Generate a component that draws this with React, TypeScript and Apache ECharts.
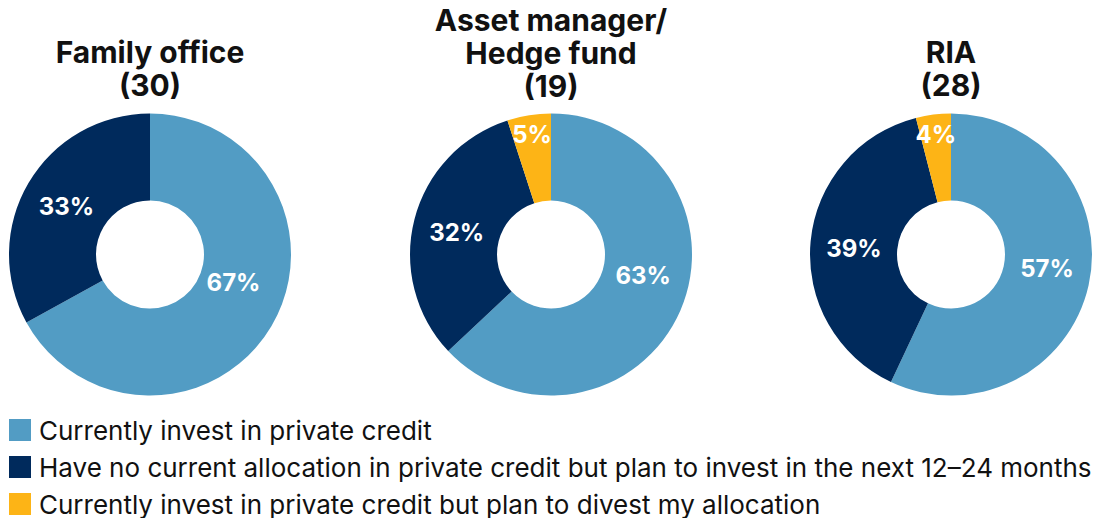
import React, { useEffect, useRef } from "react";
import * as echarts from "echarts";

const categories = [
  "Currently invest in private credit",
  "Have no current allocation in private credit but plan to invest in the next 12–24 months",
  "Currently invest in private credit but plan to divest my allocation",
];
const colors = ["#529CC4", "#002A5C", "#FDB416"];
const groupTitles = ["Family office\n(30)", "Asset manager/\nHedge fund\n(19)", "RIA\n(28)"];
const familyOffice = [67, 33, 0];
const assetManager = [63, 32, 5];
const ria = [57, 39, 4];
const groups = [familyOffice, assetManager, ria];

const FONT = "Inter";

export default function App() {
  const ref = useRef<HTMLDivElement>(null);
  useEffect(() => {
    if (!ref.current) return;
    const chart = echarts.init(ref.current, undefined, { renderer: "svg" });
    const centersX = [150, 551, 951];
    const cy = 254.5;
    const titleTops = [35, 3, 35];
    // vertical nudges for the large first-slice labels (label placement style)
    const firstLabelNudge = [[-3, -23], [0, -19], [-2, -8]];
    const labelStyle = {
      position: "inside",
      formatter: "{c}%",
      color: "#fff",
      fontFamily: FONT,
      fontWeight: "bold",
      fontSize: 24,
    };
    const mainSeries = groups.map((vals, gi) => ({
      type: "pie",
      center: [centersX[gi], cy],
      radius: [54, 141],
      startAngle: 90,
      clockwise: true,
      silent: true,
      avoidLabelOverlap: false,
      labelLine: { show: false },
      itemStyle: { borderWidth: 0 },
      labelLayout: (p: any) =>
        p.dataIndex === 0
          ? { dx: firstLabelNudge[gi][0], dy: firstLabelNudge[gi][1] }
          : { dx: 3, dy: 3 },
      data: vals.map((v, i) => ({
        name: categories[i],
        value: v,
        itemStyle: { color: colors[i] },
        label: { ...labelStyle, show: v >= 10 },
      })),
    }));
    const overlaySeries = groups.map((vals, gi) => ({
      type: "pie",
      center: [centersX[gi], cy],
      radius: [95, 141],
      startAngle: 90,
      clockwise: true,
      silent: true,
      avoidLabelOverlap: false,
      labelLine: { show: false },
      legendHoverLink: false,
      itemStyle: { color: "rgba(0,0,0,0)", borderWidth: 0 },
      data: vals.map((v, i) => ({
        name: categories[i],
        value: v,
        label: { ...labelStyle, show: v > 0 && v < 10 },
      })),
    }));
    chart.setOption({
      animation: false,
      title: groupTitles.map((t, gi) => ({
        text: t,
        left: centersX[gi],
        top: titleTops[gi],
        padding: 0,
        textAlign: "center",
        textStyle: {
          fontFamily: FONT,
          fontWeight: "bold",
          fontSize: 30,
          lineHeight: 33,
          color: "#111",
        },
      })),
      legend: {
        orient: "vertical",
        left: 9,
        top: 417,
        padding: 0,
        itemWidth: 22,
        itemHeight: 22,
        itemGap: 11,
        icon: "rect",
        selectedMode: false,
        data: categories.map((c, i) => ({ name: c, itemStyle: { color: colors[i] } })),
        textStyle: {
          fontFamily: FONT,
          fontSize: 26,
          color: "#111",
          padding: [0, 0, 0, 3],
        },
      },
      series: [...mainSeries, ...overlaySeries],
    });
    return () => chart.dispose();
  }, []);
  return (
    <div
      ref={ref}
      style={{ position: "fixed", left: 0, top: 0, width: 1100, height: 518, background: "#fff" }}
    />
  );
}
